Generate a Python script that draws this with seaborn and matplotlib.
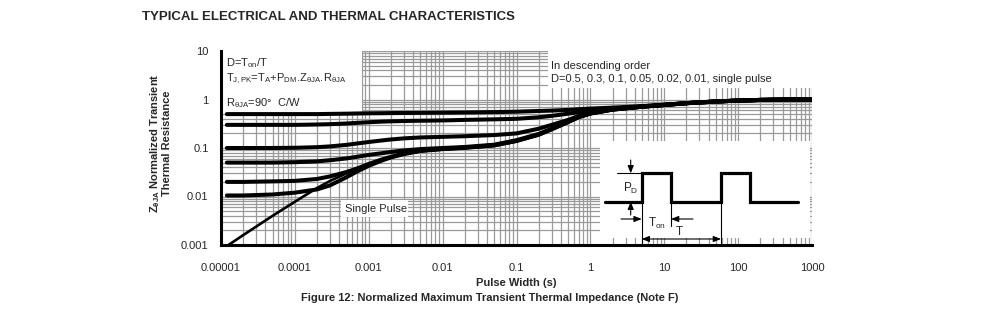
import numpy as np
import pandas as pd
import matplotlib
matplotlib.use("Agg")
import matplotlib.pyplot as plt
from matplotlib.patches import Rectangle
import seaborn as sns

# Pulse width samples (s)
pulse_width = [1.2e-5, 2e-5, 5e-5, 1e-4, 2e-4, 3e-4, 5e-4, 7e-4, 1e-3, 1.5e-3, 2e-3, 3e-3,
               5e-3, 1e-2, 2e-2, 5e-2, 0.1, 0.2, 0.3, 0.5, 0.7, 1, 2, 5, 10, 20, 50,
               100, 200, 500, 1000]

# Normalized transient thermal resistance for each duty cycle
z_d050 = [0.50, 0.50, 0.50, 0.50, 0.50, 0.505, 0.51, 0.515, 0.52, 0.522, 0.525, 0.528,
          0.53, 0.535, 0.54, 0.55, 0.56, 0.58, 0.59, 0.61, 0.63, 0.65, 0.68, 0.73, 0.78,
          0.84, 0.91, 0.95, 0.98, 1.0, 1.0]
z_d030 = [0.30, 0.30, 0.30, 0.30, 0.305, 0.31, 0.32, 0.33, 0.34, 0.35, 0.355, 0.36,
          0.365, 0.37, 0.38, 0.39, 0.40, 0.43, 0.46, 0.51, 0.55, 0.59, 0.65, 0.72, 0.78,
          0.84, 0.91, 0.95, 0.98, 1.0, 1.0]
z_d010 = [0.10, 0.10, 0.10, 0.101, 0.104, 0.108, 0.116, 0.124, 0.133, 0.143, 0.15, 0.158,
          0.165, 0.17, 0.175, 0.185, 0.20, 0.25, 0.30, 0.38, 0.46, 0.53, 0.63, 0.71, 0.77,
          0.84, 0.91, 0.95, 0.98, 1.0, 1.0]
z_d005 = [0.050, 0.050, 0.050, 0.051, 0.053, 0.056, 0.061, 0.066, 0.072, 0.078, 0.083, 0.089,
          0.095, 0.10, 0.105, 0.117, 0.145, 0.195, 0.25, 0.35, 0.44, 0.52, 0.62, 0.71, 0.77,
          0.84, 0.91, 0.95, 0.98, 1.0, 1.0]
z_d002 = [0.020, 0.020, 0.0205, 0.021, 0.023, 0.026, 0.032, 0.038, 0.047, 0.058, 0.066, 0.077,
          0.088, 0.096, 0.102, 0.114, 0.14, 0.19, 0.245, 0.345, 0.435, 0.515, 0.62, 0.71, 0.77,
          0.84, 0.91, 0.95, 0.98, 1.0, 1.0]
z_d001 = [0.0105, 0.0105, 0.011, 0.012, 0.014, 0.017, 0.025, 0.033, 0.043, 0.055, 0.064, 0.075,
          0.087, 0.095, 0.101, 0.113, 0.14, 0.188, 0.243, 0.343, 0.433, 0.513, 0.62, 0.71, 0.77,
          0.84, 0.91, 0.95, 0.98, 1.0, 1.0]
z_single = [0.00095, 0.0016, 0.004, 0.0078, 0.015, 0.021, 0.030, 0.037, 0.045, 0.056, 0.064, 0.075,
            0.086, 0.094, 0.100, 0.112, 0.138, 0.185, 0.24, 0.34, 0.43, 0.51, 0.62, 0.71, 0.77,
            0.84, 0.91, 0.95, 0.98, 1.0, 1.0]

series = {"0.5": z_d050, "0.3": z_d030, "0.1": z_d010, "0.05": z_d005,
          "0.02": z_d002, "0.01": z_d001, "single": z_single}

x_ticks = [1e-5, 1e-4, 1e-3, 1e-2, 1e-1, 1, 10, 100, 1000]
x_ticklabels = ["0.00001", "0.0001", "0.001", "0.01", "0.1", "1", "10", "100", "1000"]
y_ticks = [0.001, 0.01, 0.1, 1, 10]
y_ticklabels = ["0.001", "0.01", "0.1", "1", "10"]

df = pd.concat([pd.DataFrame({"t": pulse_width, "z": v, "D": k}) for k, v in series.items()],
               ignore_index=True)

sns.set_style("white")
plt.rcParams["font.family"] = ["Liberation Sans", "DejaVu Sans"]
plt.rcParams["mathtext.fontset"] = "custom"
plt.rcParams["mathtext.rm"] = "Liberation Sans"
plt.rcParams["mathtext.it"] = "Liberation Sans:italic"
plt.rcParams["mathtext.bf"] = "Liberation Sans:bold"

W, H = 991, 334
fig = plt.figure(figsize=(W / 100, H / 100), dpi=100)
X0, X1, Y0, Y1 = 221, 812, 51, 245
ax = fig.add_axes([X0 / W, 1 - Y1 / H, (X1 - X0) / W, (Y1 - Y0) / H])

for key in series:
    sub = df[df["D"] == key]
    sns.lineplot(data=sub, x="t", y="z", ax=ax, color="black", sort=False,
                 lw=1.9 if key == "single" else 2.9, zorder=4, legend=False,
                 solid_joinstyle="round")

ax.set_xscale("log")
ax.set_yscale("log")
ax.set_xlim(1e-5, 1000)
ax.set_ylim(0.001, 10)
ax.set_xticks(x_ticks)
ax.set_xticklabels(x_ticklabels)
ax.set_yticks(y_ticks)
ax.set_yticklabels(y_ticklabels)
ax.set_xlabel("")
ax.set_ylabel("")
ax.tick_params(axis="both", which="major", length=2, width=1, labelsize=8, color="black")
ax.tick_params(axis="x", pad=11)
ax.tick_params(axis="y", pad=7)
ax.tick_params(which="minor", length=0)
ax.grid(True, which="both", color="#9a9a9a", lw=0.9)
ax.set_axisbelow(True)
for s in ("top", "right"):
    ax.spines[s].set_visible(False)
for s in ("left", "bottom"):
    ax.spines[s].set_color("black")
    ax.spines[s].set_linewidth(2.2)
    ax.spines[s].set_zorder(6)


def fx(px):
    return (px - X0) / (X1 - X0)


def fy(py):
    return (Y1 - py) / (Y1 - Y0)


def box(x0, y0, x1, y1):
    ax.add_patch(Rectangle((fx(x0), fy(y1)), fx(x1) - fx(x0), fy(y0) - fy(y1),
                           transform=ax.transAxes, facecolor="white", edgecolor="none",
                           zorder=2, clip_on=False))


def txt(px, py, s, **kw):
    ax.text(fx(px), fy(py), s, transform=ax.transAxes, fontsize=kw.pop("fontsize", 8),
            va="center", ha=kw.pop("ha", "left"), zorder=7, **kw)


# white label panels
box(222, 51, 362, 113)
box(548, 51, 812, 88)
box(341, 200, 408, 217)
box(600, 141, 810, 238)

txt(226, 63, r"D=T$_{\mathrm{on}}$/T")
txt(226, 79, r"T$_{\mathrm{J,PK}}$=T$_{\mathrm{A}}$+P$_{\mathrm{DM}}$.Z$_{\mathrm{θJA}}$.R$_{\mathrm{θJA}}$")
txt(226, 103, r"R$_{\mathrm{θJA}}$=90°  C/W")
txt(551, 66, "In descending order")
txt(551, 79, "D=0.5, 0.3, 0.1, 0.05, 0.02, 0.01, single pulse")
txt(345, 209, "Single Pulse")

# pulse train sketch
lo, hi = 201.7, 173.3
wx = [605, 641.7, 641.7, 671, 671, 721, 721, 750, 750, 798]
wy = [lo, lo, hi, hi, lo, lo, hi, hi, lo, lo]
ax.plot([fx(v) for v in wx], [fy(v) for v in wy], transform=ax.transAxes,
        color="black", lw=2.3, zorder=7, clip_on=False, solid_joinstyle="miter")
thin = dict(transform=ax.transAxes, color="black", lw=0.8, zorder=7, clip_on=False)
ax.plot([fx(617), fx(641.7)], [fy(hi), fy(hi)], **thin)
ax.plot([fx(641.7), fx(641.7)], [fy(lo), fy(245)], **thin)
ax.plot([fx(671), fx(671)], [fy(lo), fy(226)], **thin)
ax.plot([fx(721), fx(721)], [fy(lo), fy(245)], **thin)

arrow = dict(arrowstyle="-|>,head_length=0.45,head_width=0.18", color="black", lw=0.8,
             shrinkA=0, shrinkB=0)
for (xa, ya), (xb, yb) in [((630.7, 160), (630.7, hi)), ((630.7, 215), (630.7, lo)),
                           ((621, 219), (641.7, 219)), ((693, 219), (671, 219))]:
    ax.annotate("", xy=(fx(xb), fy(yb)), xytext=(fx(xa), fy(ya)),
                xycoords="axes fraction", textcoords="axes fraction",
                arrowprops=arrow, zorder=7, annotation_clip=False)
ax.annotate("", xy=(fx(721), fy(239)), xytext=(fx(641.7), fy(239)),
            xycoords="axes fraction", textcoords="axes fraction",
            arrowprops=dict(arrowstyle="<|-|>,head_length=0.45,head_width=0.18",
                            color="black", lw=0.8, shrinkA=0, shrinkB=0),
            zorder=7, annotation_clip=False)
txt(623, 188, r"P$_{\mathrm{D}}$", fontsize=8.5)
txt(648, 223, r"T$_{\mathrm{on}}$", fontsize=8.5)
txt(676, 232, "T", fontsize=8.5)

# titles and axis captions
fig.text(142 / W, 1 - 17 / H, "TYPICAL ELECTRICAL AND THERMAL CHARACTERISTICS",
         fontsize=9.5, fontweight="bold", ha="left", va="center")
fig.text(160 / W, 1 - 143 / H,
         r"Z$_{\mathbf{θJA}}$ Normalized Transient" + "\nThermal Resistance",
         fontsize=8, fontweight="bold", rotation=90, ha="center", va="center",
         multialignment="center", linespacing=0.95)
fig.text(516 / W, 1 - 283 / H, "Pulse Width (s)", fontsize=8, fontweight="bold",
         ha="center", va="center")
fig.text(490 / W, 1 - 298 / H,
         "Figure 12: Normalized Maximum Transient Thermal Impedance (Note F)",
         fontsize=8, fontweight="bold", ha="center", va="center")

fig.savefig("out.png", dpi=100, facecolor="white")
